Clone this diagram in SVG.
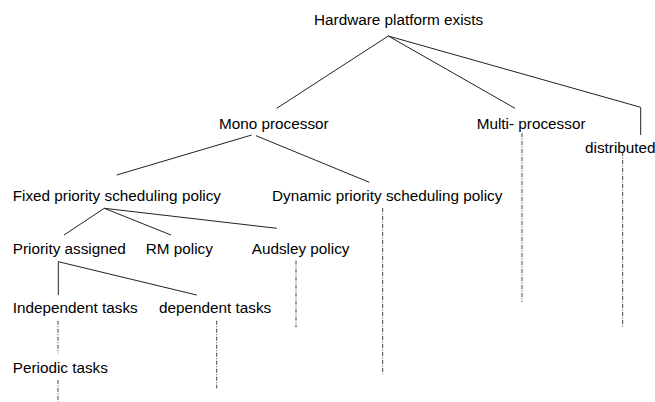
<svg xmlns="http://www.w3.org/2000/svg" width="655" height="402" viewBox="0 0 655 402">
<style>
  text { font-family: "Liberation Sans", Arial, sans-serif; font-size: 15.3px; fill: #000; }
  .solid { stroke: #222; stroke-width: 1; fill: none; }
  .dd { stroke: #444; stroke-width: 1; fill: none; stroke-dasharray: 4 1.5 1 1.5; }
</style>
<rect width="655" height="402" fill="#fff"/>
<g id="connectors">
  <line class="solid" x1="388.3" y1="36" x2="276.7" y2="108.3"/>
  <line class="solid" x1="388.3" y1="36" x2="515" y2="108.3"/>
  <polyline class="solid" points="388.3,36 640.7,107.3 640.7,135"/>
  <line class="solid" x1="251.7" y1="135" x2="116.7" y2="175"/>
  <line class="solid" x1="256" y1="135.7" x2="369.3" y2="182.3"/>
  <line class="solid" x1="104.3" y1="208.3" x2="64" y2="235"/>
  <line class="solid" x1="104.3" y1="208.3" x2="171" y2="235"/>
  <line class="solid" x1="104.3" y1="208.3" x2="276.7" y2="228.3"/>
  <line class="solid" x1="58.3" y1="261.7" x2="58.3" y2="295"/>
  <line class="solid" x1="58.3" y1="261.7" x2="196.7" y2="295"/>
  <line class="dd" x1="522" y1="133" x2="522" y2="302"/>
  <line class="dd" x1="622.7" y1="152" x2="622.7" y2="327"/>
  <line class="dd" x1="382.7" y1="208" x2="382.7" y2="374"/>
  <line class="dd" x1="296" y1="260.7" x2="296" y2="327.3"/>
  <line class="dd" x1="58" y1="320.7" x2="58" y2="353.3"/>
  <line class="dd" x1="216.7" y1="320.7" x2="216.7" y2="388.3"/>
  <line class="dd" x1="58" y1="380" x2="58" y2="402"/>
</g>
<g id="hardware"><text x="314" y="25">Hardware platform exists</text></g>
<g id="mono"><text x="219" y="128.5">Mono processor</text></g>
<g id="multi"><text x="476.7" y="128.5">Multi- processor</text></g>
<g id="distributed"><text x="585" y="152.5">distributed</text></g>
<g id="fixed"><text x="12.7" y="200.5">Fixed priority scheduling policy</text></g>
<g id="dynamic"><text x="272" y="200.5">Dynamic priority scheduling policy</text></g>
<g id="priority-assigned"><text x="12.7" y="253.5">Priority assigned</text></g>
<g id="rm"><text x="145.7" y="253.5">RM policy</text></g>
<g id="audsley"><text x="251.7" y="253.5">Audsley policy</text></g>
<g id="independent"><text x="12.7" y="312.7">Independent tasks</text></g>
<g id="dependent"><text x="159" y="312.7">dependent tasks</text></g>
<g id="periodic"><text x="12.7" y="372.7">Periodic tasks</text></g>
</svg>
